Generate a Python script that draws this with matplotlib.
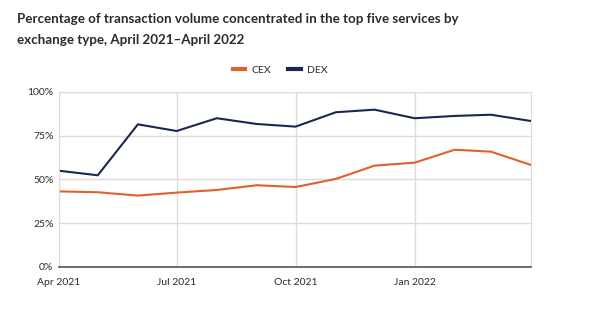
import matplotlib
matplotlib.use('Agg')
import matplotlib.pyplot as plt
import matplotlib.dates as mdates
import numpy as np
from datetime import date

plt.rcParams['font.family'] = ['Lato', 'DejaVu Sans']

months = [date(2021, m, 1) for m in range(4, 13)] + [date(2022, m, 1) for m in range(1, 5)]
cex = [43.2, 42.7, 40.8, 42.5, 44.0, 46.7, 45.7, 50.3, 57.9, 59.6, 67.0, 65.9, 58.3]
dex = [55.0, 52.4, 81.5, 77.7, 85.0, 81.7, 80.2, 88.4, 89.9, 85.0, 86.3, 87.0, 83.4]
tick_dates = [date(2021, 4, 1), date(2021, 7, 1), date(2021, 10, 1), date(2022, 1, 1)]
tick_labels = ['Apr 2021', 'Jul 2021', 'Oct 2021', 'Jan 2022']

cex_color = '#e0612b'
dex_color = '#1b2752'
grid_color = '#dcdcdc'
text_color = '#2b2b2b'

fig = plt.figure(figsize=(6, 3.25), dpi=100)
ax = fig.add_axes([0.0983, 0.1785, 0.7867, 0.5385])

ax.plot(months, cex, color=cex_color, lw=1.5, label='CEX')
ax.plot(months, dex, color=dex_color, lw=1.5, label='DEX')

ax.set_xlim(months[0], months[-1])
ax.set_ylim(0, 100)
ax.set_yticks([0, 25, 50, 75, 100])
ax.set_yticklabels(['0%', '25%', '50%', '75%', '100%'])
ax.set_xticks([mdates.date2num(d) for d in tick_dates])
ax.set_xticklabels(tick_labels)

ax.grid(True, color=grid_color, lw=1)
ax.set_axisbelow(True)
for s in ['top', 'left', 'right']:
    ax.spines[s].set_color(grid_color)
ax.spines['bottom'].set_color('#555555')
ax.spines['bottom'].set_linewidth(1.2)
ax.tick_params(length=0, labelsize=7.5, colors=text_color, pad=8)
ax.tick_params(axis='y', pad=4)

fig.text(0.028, 0.96, 'Percentage of transaction volume concentrated in the top five services by\nexchange type, April 2021\u2013April 2022',
         fontsize=9.6, fontweight='bold', color=text_color, va='top', ha='left', linespacing=1.9)

fig.legend(loc='center', bbox_to_anchor=(0.467, 0.785), ncol=2, frameon=False,
           fontsize=7.5, handlelength=1.2, handletextpad=0.6, columnspacing=1.6,
           labelcolor=text_color)
for h in fig.legends[0].get_lines():
    h.set_linewidth(3)

fig.savefig('out.png', dpi=100, facecolor='white')
